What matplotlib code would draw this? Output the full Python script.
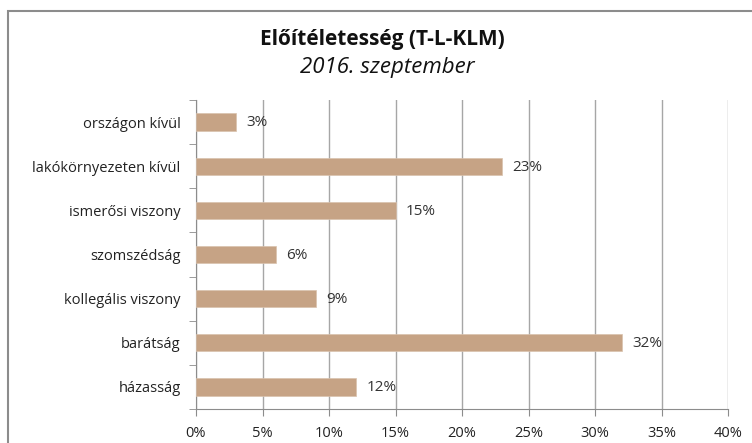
import matplotlib
matplotlib.use("Agg")
import matplotlib.pyplot as plt
from matplotlib.patches import Rectangle
from matplotlib.ticker import FuncFormatter

categories = ["házasság", "barátság", "kollegális viszony", "szomszédság",
              "ismerősi viszony", "lakókörnyezeten kívül", "országon kívül"]
values = [12, 32, 9, 6, 15, 23, 3]
xticks = [0, 5, 10, 15, 20, 25, 30, 35, 40]

plt.rcParams['font.family'] = ['Open Sans', 'DejaVu Sans']

W, H = 752, 443
fig = plt.figure(figsize=(W / 100, H / 100), dpi=100)

# outer chart border
fig.patches.append(Rectangle((8 / W, -0.1), 1.2, 1 - 11 / H + 0.1, transform=fig.transFigure,
                             fill=False, edgecolor='#8c8c8c', linewidth=1.5))

ax = fig.add_axes([196 / W, 1 - 409 / H, (728 - 196) / W, (409 - 100) / H])
ypos = list(range(len(categories)))
ax.barh(ypos, values, height=0.39, color='#c6a385', edgecolor='#d9c2ad', linewidth=0.5, zorder=3)
for y, v in zip(ypos, values):
    ax.text(v + 0.8, y - 0.02, f"{v}%", va='center', ha='left', fontsize=11, color='#333333', zorder=4)

ax.set_xlim(0, 40)
ax.set_ylim(-0.5, len(categories) - 0.5)
ax.set_xticks(xticks)
ax.xaxis.set_major_formatter(FuncFormatter(lambda x, p: f"{int(x)}%"))
ax.set_yticks(ypos)
ax.set_yticklabels(categories)
ax.set_yticks([i - 0.5 for i in range(len(categories) + 1)], minor=True)
ax.tick_params(axis='y', which='major', length=0, pad=11, labelsize=10.5, labelcolor='#222222')
ax.tick_params(axis='y', which='minor', length=5, color='#8c8c8c', direction='out')
ax.tick_params(axis='x', length=5, color='#8c8c8c', labelsize=10.5, labelcolor='#222222', pad=7)
ax.grid(axis='x', color='#a6a6a6', linewidth=1, zorder=0)
for s in ['top', 'right']:
    ax.spines[s].set_visible(False)
for s in ['left', 'bottom']:
    ax.spines[s].set_color('#8c8c8c')

fig.text(382 / W, 1 - 40 / H, "Előítéletesség (T-L-KLM)", ha='center', va='center',
         fontsize=15, fontweight='bold', color='#111111')
fig.text(387 / W, 1 - 68 / H, "2016. szeptember", ha='center', va='center',
         fontsize=16, fontstyle='italic', color='#111111')

fig.savefig("out.png", dpi=100)
